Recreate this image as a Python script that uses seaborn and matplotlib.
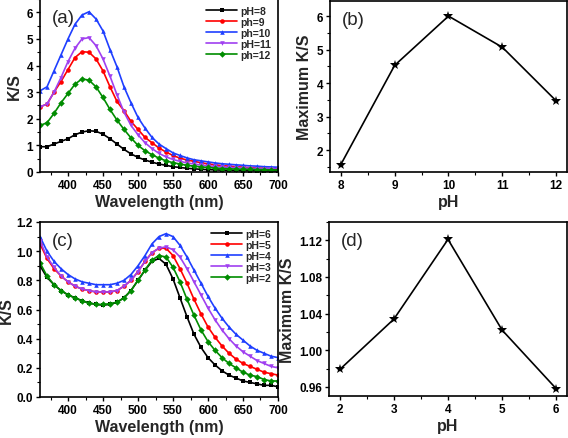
import numpy as np
import pandas as pd
import matplotlib
matplotlib.use("Agg")
import matplotlib.pyplot as plt
import seaborn as sns
from matplotlib.ticker import AutoMinorLocator, MultipleLocator

sns.set_style("ticks")
plt.rcParams['font.family'] = ['Liberation Sans', 'DejaVu Sans']

wavelength = list(range(360, 701, 10))

# Panel (a)
labels_a = ["pH=8", "ph=9", "ph=10", "pH=11", "ph=12"]
ks_ph8 = [0.95, 0.95, 1.05, 1.15, 1.25, 1.4, 1.5, 1.55, 1.53, 1.42, 1.25, 1.05, 0.85, 0.68, 0.55, 0.45,
          0.37, 0.3, 0.25, 0.2, 0.17, 0.14, 0.12, 0.1, 0.09, 0.08, 0.07, 0.06, 0.06, 0.05, 0.05, 0.05,
          0.04, 0.04, 0.04]
ks_ph9 = [2.45, 2.55, 3.0, 3.4, 3.85, 4.3, 4.52, 4.5, 4.25, 3.8, 3.2, 2.65, 2.3, 1.9, 1.6, 1.3, 1.1,
          0.9, 0.75, 0.62, 0.52, 0.45, 0.4, 0.35, 0.3, 0.27, 0.24, 0.22, 0.2, 0.18, 0.16, 0.15, 0.14,
          0.13, 0.12]
ks_ph10 = [3.05, 3.2, 3.8, 4.4, 5.0, 5.55, 5.9, 6.02, 5.75, 5.3, 4.6, 3.95, 3.2, 2.6, 2.05, 1.65, 1.3,
           1.05, 0.88, 0.72, 0.62, 0.53, 0.46, 0.42, 0.38, 0.34, 0.31, 0.29, 0.27, 0.25, 0.23, 0.22,
           0.2, 0.19, 0.18]
ks_ph11 = [2.45, 2.55, 3.0, 3.55, 4.15, 4.65, 5.0, 5.05, 4.75, 4.25, 3.6, 2.9, 2.25, 1.75, 1.4, 1.1,
           0.88, 0.7, 0.57, 0.47, 0.4, 0.34, 0.3, 0.26, 0.23, 0.21, 0.19, 0.17, 0.16, 0.15, 0.14, 0.13,
           0.12, 0.12, 0.11]
ks_ph12 = [1.75, 1.85, 2.2, 2.6, 2.95, 3.3, 3.5, 3.45, 3.2, 2.8, 2.35, 1.95, 1.6, 1.28, 1.0, 0.8, 0.65,
           0.52, 0.42, 0.35, 0.3, 0.25, 0.22, 0.19, 0.17, 0.15, 0.13, 0.12, 0.11, 0.1, 0.1, 0.09, 0.09,
           0.08, 0.08]

# Panel (b)
ph_b = [8, 9, 10, 11, 12]
max_b = [1.57, 4.53, 6.0, 5.07, 3.47]

# Panel (c)
labels_c = ["pH=6", "pH=5", "pH=4", "pH=3", "pH=2"]
ks_ph6 = [0.90, 0.82, 0.77, 0.73, 0.70, 0.68, 0.66, 0.645, 0.635, 0.63, 0.635, 0.65, 0.68, 0.73, 0.80,
          0.87, 0.93, 0.95, 0.91, 0.81, 0.68, 0.55, 0.43, 0.34, 0.27, 0.22, 0.18, 0.15, 0.13, 0.11,
          0.10, 0.09, 0.08, 0.08, 0.07]
ks_ph5 = [1.05, 0.95, 0.88, 0.83, 0.79, 0.76, 0.74, 0.73, 0.72, 0.72, 0.72, 0.73, 0.76, 0.80, 0.86,
          0.93, 0.99, 1.02, 1.02, 0.97, 0.88, 0.78, 0.67, 0.57, 0.48, 0.41, 0.35, 0.30, 0.26, 0.23,
          0.21, 0.19, 0.17, 0.16, 0.15]
ks_ph4 = [1.10, 1.0, 0.93, 0.88, 0.84, 0.81, 0.79, 0.78, 0.77, 0.77, 0.77, 0.78, 0.80, 0.84, 0.90,
          0.97, 1.05, 1.10, 1.12, 1.10, 1.04, 0.96, 0.87, 0.78, 0.69, 0.61, 0.54, 0.48, 0.43, 0.39,
          0.35, 0.32, 0.30, 0.28, 0.27]
ks_ph3 = [1.07, 0.96, 0.89, 0.83, 0.79, 0.76, 0.74, 0.73, 0.72, 0.72, 0.72, 0.73, 0.76, 0.80, 0.86,
          0.93, 0.99, 1.02, 1.03, 1.01, 0.96, 0.88, 0.79, 0.70, 0.61, 0.53, 0.46, 0.40, 0.35, 0.31,
          0.28, 0.25, 0.23, 0.21, 0.20]
ks_ph2 = [0.92, 0.83, 0.77, 0.73, 0.70, 0.68, 0.66, 0.645, 0.635, 0.635, 0.64, 0.65, 0.68, 0.73, 0.80,
          0.87, 0.94, 0.97, 0.96, 0.89, 0.79, 0.67, 0.56, 0.46, 0.38, 0.32, 0.27, 0.23, 0.20, 0.17,
          0.15, 0.14, 0.12, 0.11, 0.11]

# Panel (d)
ph_d = [2, 3, 4, 5, 6]
max_d = [0.979, 1.034, 1.121, 1.022, 0.958]

colors = ["#000000", "#ff0000", "#1f3fff", "#a040f0", "#008c00"]
markers = ["s", "o", "^", "v", "D"]

W, H = 568, 439
fig = plt.figure(figsize=(W / 100, H / 100), dpi=100)

def fpos(l, t, r, b):
    return [l / W, 1 - b / H, (r - l) / W, (b - t) / H]

ax_a = fig.add_axes(fpos(40, 0, 278, 173))
ax_b = fig.add_axes(fpos(330, 2, 567, 173))
ax_c = fig.add_axes(fpos(40, 223, 278, 398))
ax_d = fig.add_axes(fpos(329, 223, 567, 397))

tick_font = dict(fontsize=8.5, fontweight='bold')
lab_font = dict(fontsize=11.5, fontweight='bold')


def spectra(ax, labels, series, ylim, ymajor, fmt, ylab_x):
    frames = []
    for lab, vals in zip(labels, series):
        frames.append(pd.DataFrame({"wl": wavelength, "ks": vals, "ser": lab}))
    df = pd.concat(frames, ignore_index=True)
    sns.lineplot(data=df, x="wl", y="ks", hue="ser", style="ser", hue_order=labels,
                 style_order=labels, palette=dict(zip(labels, colors)),
                 markers=dict(zip(labels, markers)), dashes=False, ax=ax,
                 linewidth=1.2, markersize=3.3, markeredgewidth=0)
    ax.set_xlim(360, 700)
    ax.set_ylim(*ylim)
    ax.xaxis.set_minor_locator(AutoMinorLocator(2))
    ax.yaxis.set_major_locator(MultipleLocator(ymajor))
    ax.yaxis.set_minor_locator(AutoMinorLocator(2))
    ax.set_xticks([400, 450, 500, 550, 600, 650, 700])
    ax.set_xticklabels([str(v) for v in [400, 450, 500, 550, 600, 650, 700]], **tick_font)
    yt = [t for t in ax.get_yticks() if ylim[0] - 1e-9 <= t <= ylim[1] + 1e-9]
    ax.set_yticks(yt)
    ax.set_yticklabels([fmt.format(t) for t in yt], **tick_font)
    ax.set_ylim(*ylim)
    ax.set_xlabel("Wavelength (nm)", **lab_font, labelpad=2)
    ax.set_ylabel("K/S", **lab_font)
    ax.yaxis.set_label_coords(ylab_x, 0.5)
    leg = ax.legend(loc="upper right", frameon=False, handlelength=3.0,
                    handletextpad=0.3, labelspacing=0.1, borderaxespad=0.25,
                    prop=dict(weight='bold', size=7.5))
    for h in leg.legend_handles:
        h.set_markersize(3.3)


def maxplot(ax, xs, ys, xlim, ylim, yticks, fmt):
    df = pd.DataFrame({"ph": xs, "m": ys})
    sns.lineplot(data=df, x="ph", y="m", ax=ax, color="black", marker="*",
                 markersize=7.5, linewidth=1.2, markeredgewidth=0)
    ax.set_xlim(*xlim)
    ax.set_ylim(*ylim)
    ax.set_xticks(xs)
    ax.set_xticklabels([str(v) for v in xs], **tick_font)
    ax.xaxis.set_minor_locator(AutoMinorLocator(2))
    ax.set_yticks(yticks)
    ax.set_yticklabels([fmt.format(t) for t in yticks], **tick_font)
    ax.yaxis.set_minor_locator(AutoMinorLocator(2))
    ax.set_xlabel("pH", **lab_font, labelpad=2)
    ax.set_ylabel("Maximum K/S", **lab_font, labelpad=3)


spectra(ax_a, labels_a, [ks_ph8, ks_ph9, ks_ph10, ks_ph11, ks_ph12], (0, 6.5), 1, "{:.0f}",
        -0.075)
spectra(ax_c, labels_c, [ks_ph6, ks_ph5, ks_ph4, ks_ph3, ks_ph2], (0, 1.2), 0.2, "{:.1f}",
        -0.108)
maxplot(ax_b, ph_b, max_b, (7.8, 12.2), (1.35, 6.45), [2, 3, 4, 5, 6], "{:.0f}")
maxplot(ax_d, ph_d, max_d, (1.8, 6.2), (0.950, 1.140), [0.96, 1.00, 1.04, 1.08, 1.12], "{:.2f}")

for ax, lab in zip([ax_a, ax_b, ax_c, ax_d], ["(a)", "(b)", "(c)", "(d)"]):
    ax.text(0.05, 0.94, lab, transform=ax.transAxes, fontsize=13.5, va="top", ha="left")
    for s in ax.spines.values():
        s.set_linewidth(1.2)
        s.set_color("black")
    ax.tick_params(which="major", direction="out", length=3, width=1, pad=2, colors="black")
    ax.tick_params(which="minor", direction="out", length=2, width=0.8, colors="black")

fig.savefig("out.png", dpi=100)
